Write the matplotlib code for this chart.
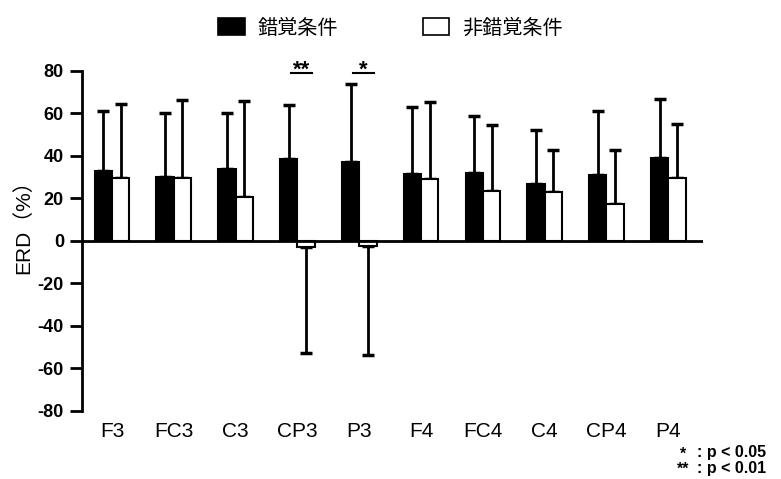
import numpy as np
import matplotlib
matplotlib.use('Agg')
import matplotlib.pyplot as plt
from matplotlib.patches import Patch

plt.rcParams['font.family'] = ['Liberation Sans', 'Noto Sans CJK JP', 'DejaVu Sans']
plt.rcParams['axes.unicode_minus'] = False

# Data
channels = ['F3', 'FC3', 'C3', 'CP3', 'P3', 'F4', 'FC4', 'C4', 'CP4', 'P4']
illusion_mean = [33, 30, 34, 38.5, 37, 31.5, 32, 27, 31, 39]
illusion_sd = [28, 30, 26, 25.5, 37, 31.5, 27, 25, 30, 28]
control_mean = [29.5, 29.5, 20.5, -3, -2.5, 29, 23.5, 23, 17.5, 29.5]
control_sd = [35, 37, 45.5, 49.5, 51, 36.5, 31, 20, 25.5, 25.5]
sig_channels = ['CP3', 'P3']
sig_marks = ['**', '*']

labels = ['錯覚条件', '非錯覚条件']

fig = plt.figure(figsize=(7.81, 4.79), dpi=100)
ax = fig.add_axes([0.105, 0.142, 0.795, 0.71])

x = np.arange(len(channels))
w = 0.28

def one_sided(mean, sd):
    mean = np.array(mean, dtype=float)
    sd = np.array(sd, dtype=float)
    up = np.where(mean >= 0, sd, 0)
    down = np.where(mean < 0, sd, 0)
    return [down, up]

ax.bar(x - w / 2, illusion_mean, w, color='black', edgecolor='black', linewidth=1.5, zorder=2)
ax.bar(x + w / 2, control_mean, w, color='white', edgecolor='black', linewidth=1.5, zorder=2)
ax.errorbar(x - w / 2, illusion_mean, yerr=one_sided(illusion_mean, illusion_sd), fmt='none',
            ecolor='black', elinewidth=2, capsize=4.3, capthick=2.5, zorder=1)
ax.errorbar(x + w / 2, control_mean, yerr=one_sided(control_mean, control_sd), fmt='none',
            ecolor='black', elinewidth=2, capsize=4.3, capthick=2.5, zorder=1)

ax.axhline(0, color='black', linewidth=2, zorder=3)

# significance marks
for ch, mark in zip(sig_channels, sig_marks):
    i = channels.index(ch)
    ax.plot([i - 0.1, i + 0.24], [79, 79], color='black', linewidth=1.5, clip_on=False)
    ax.text(i + 0.07, 77.6, mark, ha='center', va='baseline', fontsize=16, fontweight='bold')

ax.set_xlim(-0.485, 9.56)
ax.set_ylim(-80, 80)
ax.set_yticks(np.arange(-80, 81, 20))
ax.set_xticks(x)
ax.set_xticklabels(channels, fontsize=15)
ax.tick_params(axis='x', length=0, pad=8)
ax.tick_params(axis='y', length=9, width=2, labelsize=13, pad=4)
for lab in ax.get_yticklabels():
    lab.set_fontweight('bold')
for s in ['top', 'right', 'bottom']:
    ax.spines[s].set_visible(False)
ax.spines['left'].set_linewidth(2)
ax.set_ylabel('ERD（%）', fontsize=15)
ax.yaxis.set_label_coords(-0.079, 0.556)

handles = [Patch(facecolor='black', edgecolor='black', linewidth=1.2),
           Patch(facecolor='white', edgecolor='black', linewidth=1.2)]
fig.legend(handles, labels, loc='upper center', bbox_to_anchor=(0.5, 1.0), ncol=2,
           frameon=False, fontsize=14.5, handlelength=1.3, handleheight=0.95,
           handletextpad=0.65, columnspacing=4.2)

# note
fig.text(683 / 781, 1 - 454 / 479, '*', ha='center', va='center', fontsize=11.5, fontweight='bold')
fig.text(697 / 781, 1 - 453 / 479, ': p < 0.05', ha='left', va='center', fontsize=11.5, fontweight='bold')
fig.text(683 / 781, 1 - 469 / 479, '**', ha='center', va='center', fontsize=11.5, fontweight='bold')
fig.text(697 / 781, 1 - 468 / 479, ': p < 0.01', ha='left', va='center', fontsize=11.5, fontweight='bold')

fig.savefig('out.png', dpi=100)
